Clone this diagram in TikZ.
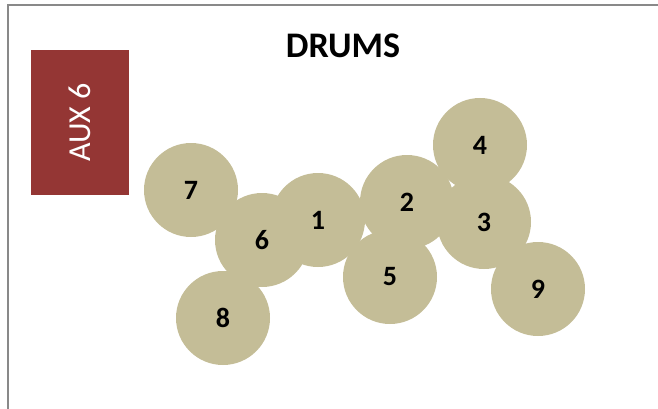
\documentclass[tikz,border=0pt]{standalone}
\usepackage{fontspec}
\setmainfont{Carlito}
\usepackage{tikz}
\definecolor{drumtan}{HTML}{C4BD97}
\definecolor{auxred}{HTML}{943634}
\definecolor{framegray}{HTML}{898989}

\begin{document}
\begin{tikzpicture}[x=1pt,y=-1pt,
 drum/.style={circle,fill=drumtan,minimum size=94pt,inner sep=0pt,font=\fontsize{28}{28}\selectfont\bfseries},
 auxbox/.style={fill=auxred,minimum width=98pt,minimum height=145pt,inner sep=0pt}]
\useasboundingbox (0,0) rectangle (658,409);
\draw[framegray,line width=2pt] (8,409)--(8,5)--(658,5);
\node[font=\fontsize{36}{36}\selectfont\bfseries] (title) at (343,46) {DRUMS};
\node[auxbox] (aux) at (80,122.5) {};
\node[rotate=90,text=white,font=\fontsize{32}{32}\selectfont] (auxlabel) at (aux.center) {AUX 6};
\node[drum] (d7) at (191,190) {7};
\node[drum] (d8) at (223,318) {8};
\node[drum] (d6) at (262,240) {6};
\node[drum] (d1) at (318,220) {1};
\node[drum] (d5) at (390,277) {5};
\node[drum] (d2) at (407,202) {2};
\node[drum] (d3) at (484,222) {3};
\node[drum] (d4) at (480,145) {4};
\node[drum] (d9) at (538,289) {9};
\end{tikzpicture}
\end{document}
